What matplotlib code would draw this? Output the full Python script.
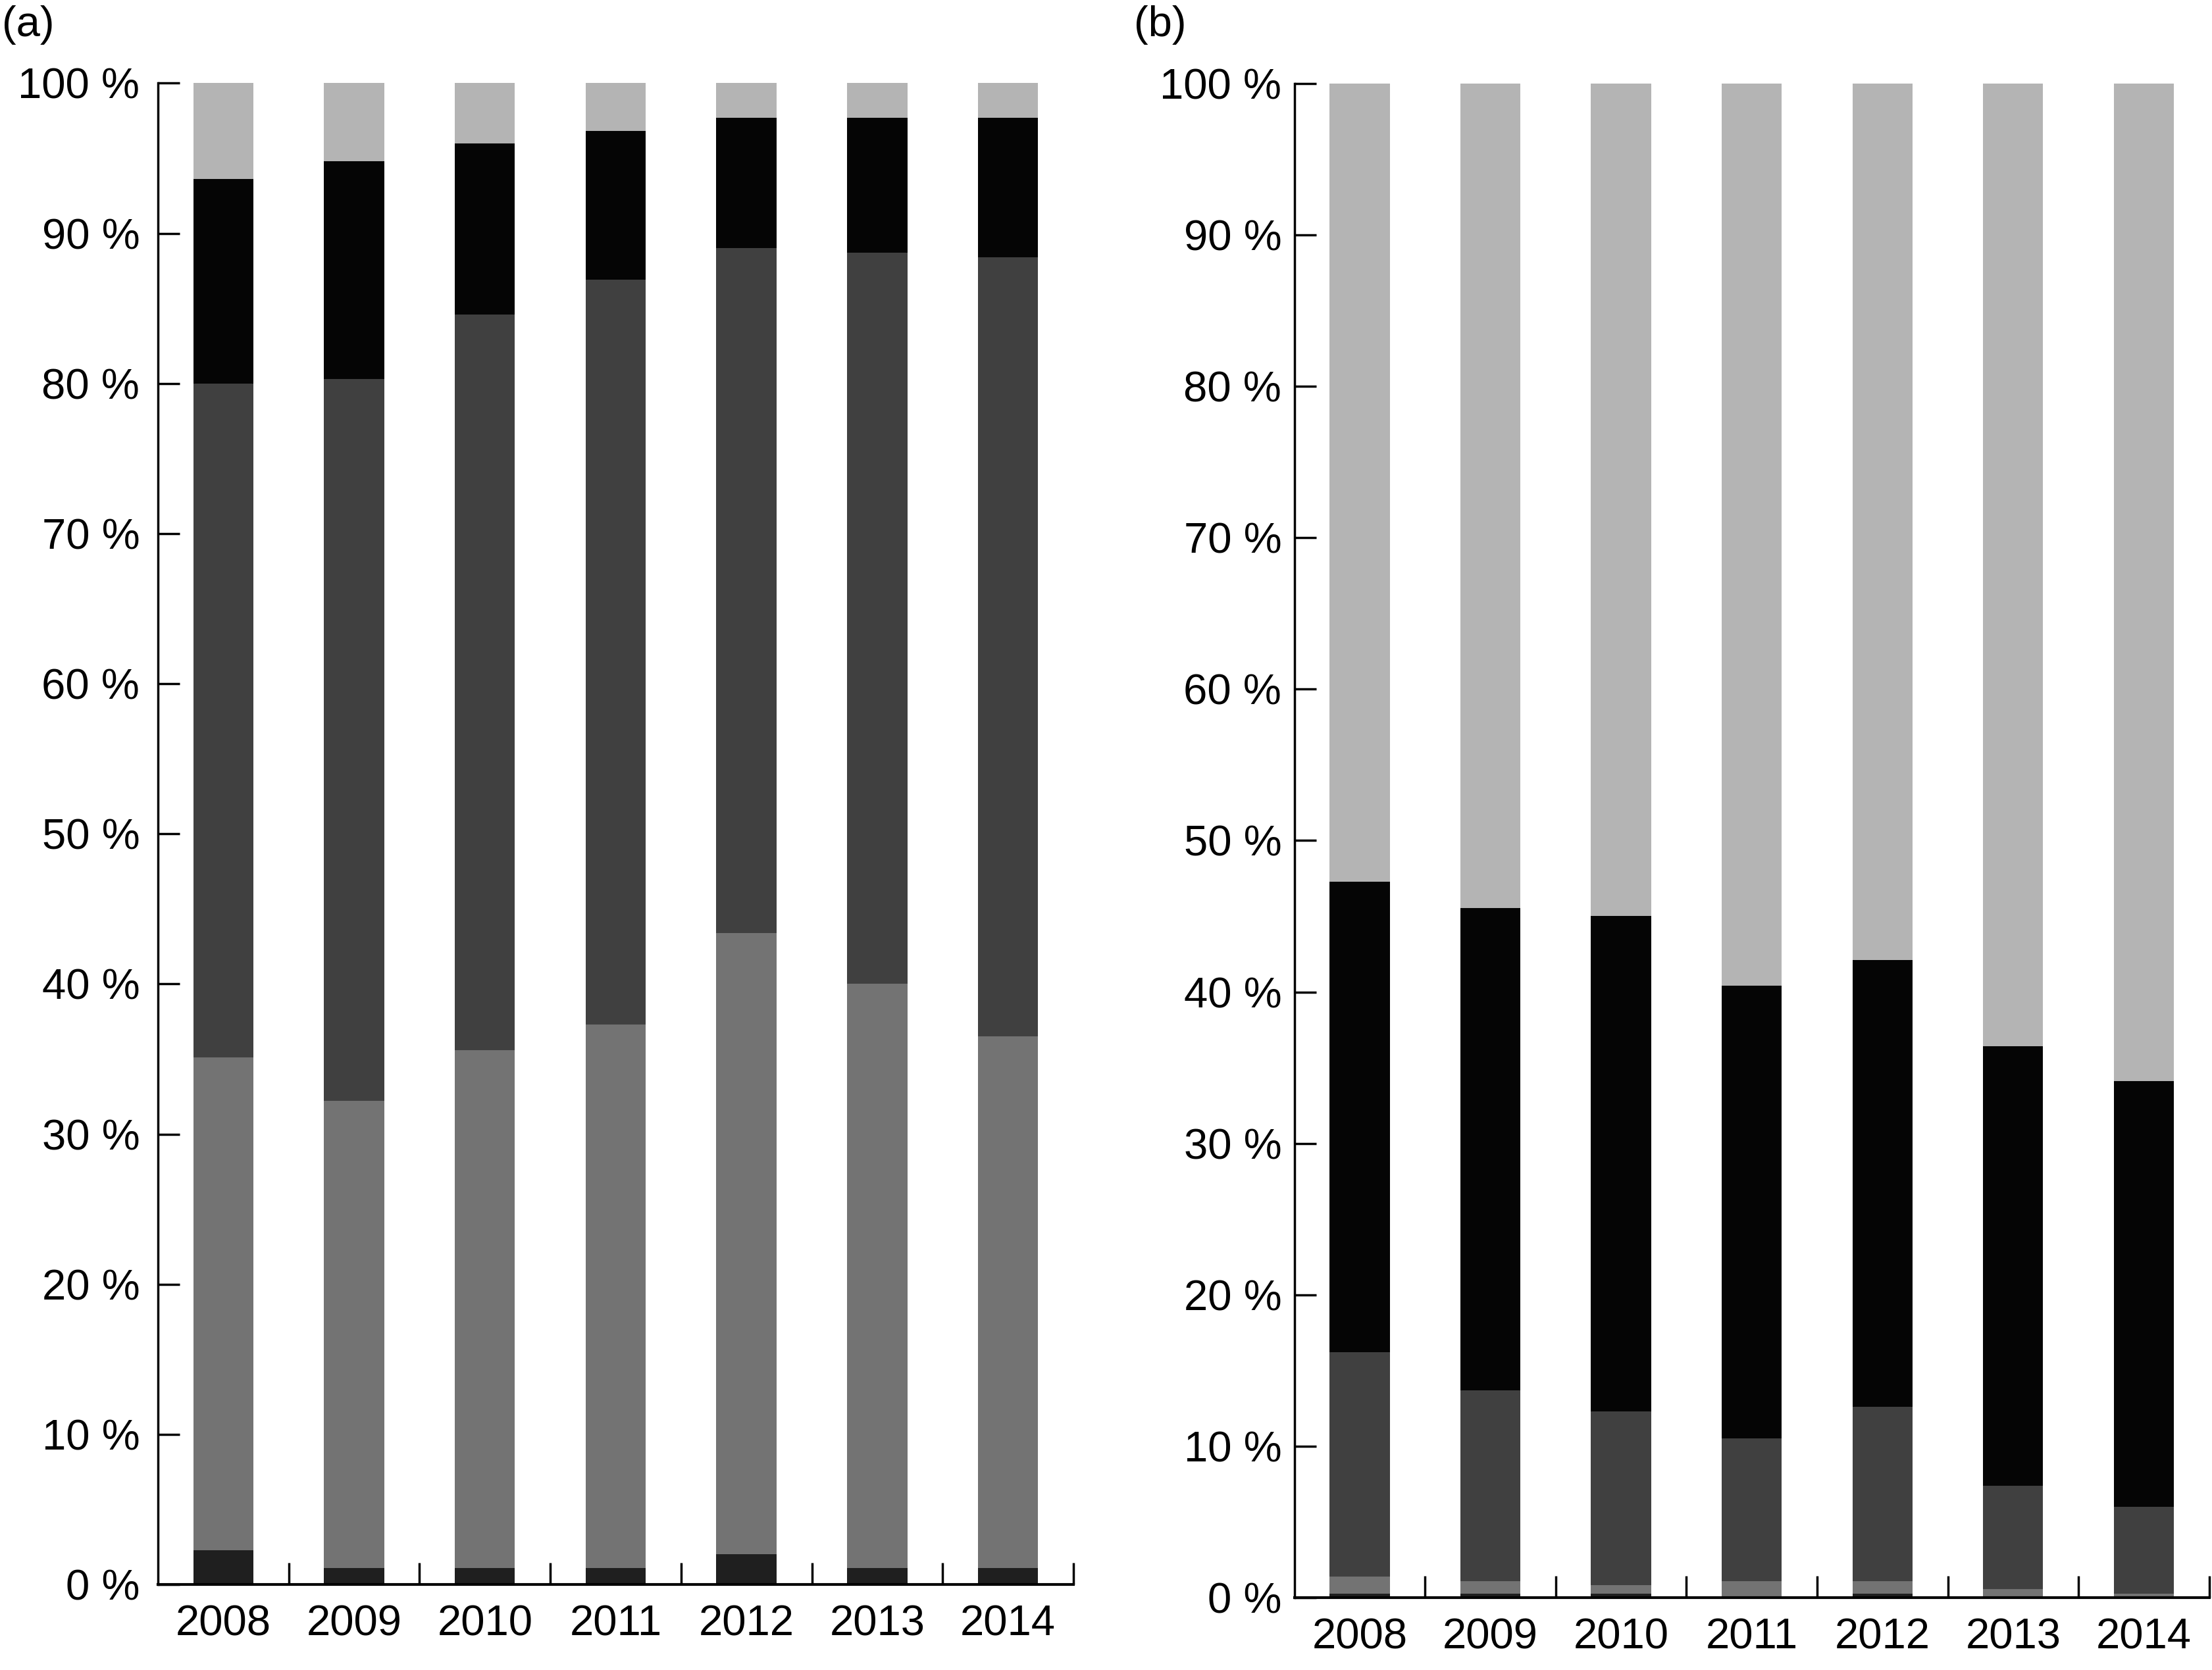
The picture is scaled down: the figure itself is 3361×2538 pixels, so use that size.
import numpy as np
import matplotlib
matplotlib.use("Agg")
from matplotlib import pyplot as plt

plt.rcParams['font.family'] = ['Liberation Sans', 'DejaVu Sans']

years = ["2008", "2009", "2010", "2011", "2012", "2013", "2014"]

# panel (a) shares per year, bottom segment first [%]
a_s1 = [2.3, 1.1, 1.1, 1.1, 2.0, 1.1, 1.1]
a_s2 = [32.8, 31.1, 34.5, 36.2, 41.4, 38.9, 35.4]
a_s3 = [44.9, 48.1, 49.0, 49.6, 45.6, 48.7, 51.9]
a_s4 = [13.6, 14.5, 11.4, 9.9, 8.7, 9.0, 9.3]
a_s5 = [6.4, 5.2, 4.0, 3.2, 2.3, 2.3, 2.3]

# panel (b) shares per year, bottom segment first [%]
b_s1 = [0.25, 0.25, 0.25, 0.0, 0.25, 0.0, 0.0]
b_s2 = [1.15, 0.85, 0.6, 1.1, 0.85, 0.55, 0.25]
b_s3 = [14.8, 12.6, 11.45, 9.4, 11.5, 6.85, 5.75]
b_s4 = [31.1, 31.85, 32.7, 29.9, 29.5, 29.0, 28.1]
b_s5 = [52.7, 54.45, 55.0, 59.6, 57.9, 63.6, 65.9]

colors = ["#1f1f1f", "#737373", "#404040", "#050505", "#b4b4b4"]

fig = plt.figure(figsize=(33.62, 25.38), dpi=100)
ax_a = fig.add_axes([0.0714, 0.0512, 0.4137, 0.899])
ax_b = fig.add_axes([0.585, 0.0433, 0.4134, 0.9068])


def draw(ax, segments, label, lx, ypad):
    x = np.arange(len(years))
    bottom = np.zeros(len(years))
    for seg, c in zip(segments, colors):
        ax.bar(x, seg, width=0.46, bottom=bottom, color=c, edgecolor="none")
        bottom += np.array(seg)

    ax.set_xlim(-0.5, len(years) - 0.5)
    ax.set_ylim(0, 100)
    ax.spines["top"].set_visible(False)
    ax.spines["right"].set_visible(False)
    ax.spines["left"].set_linewidth(2.5)
    ax.spines["bottom"].set_linewidth(3.0)

    # y axis
    ax.set_yticks(np.arange(0, 101, 10))
    ax.set_yticklabels([f"{v} %" for v in range(0, 101, 10)])
    ax.tick_params(axis="y", direction="in", length=24, width=2.5,
                   labelsize=47, pad=ypad)

    # x axis: boundary ticks, labels at centres
    ax.set_xticks(x + 0.5)
    ax.set_xticklabels([])
    ax.set_xticks(x, minor=True)
    ax.set_xticklabels(years, minor=True)
    ax.tick_params(axis="x", which="major", direction="in", length=24,
                   width=2.5)
    ax.tick_params(axis="x", which="minor", length=0, labelsize=47, pad=22)

    fig.text(lx, 0.997, label, fontsize=47, va="top", ha="left")


draw(ax_a, [a_s1, a_s2, a_s3, a_s4, a_s5], "(a)", 0.001, 20)
draw(ax_b, [b_s1, b_s2, b_s3, b_s4, b_s5], "(b)", 0.5125, 14)

plt.savefig("out.png", dpi=100)
